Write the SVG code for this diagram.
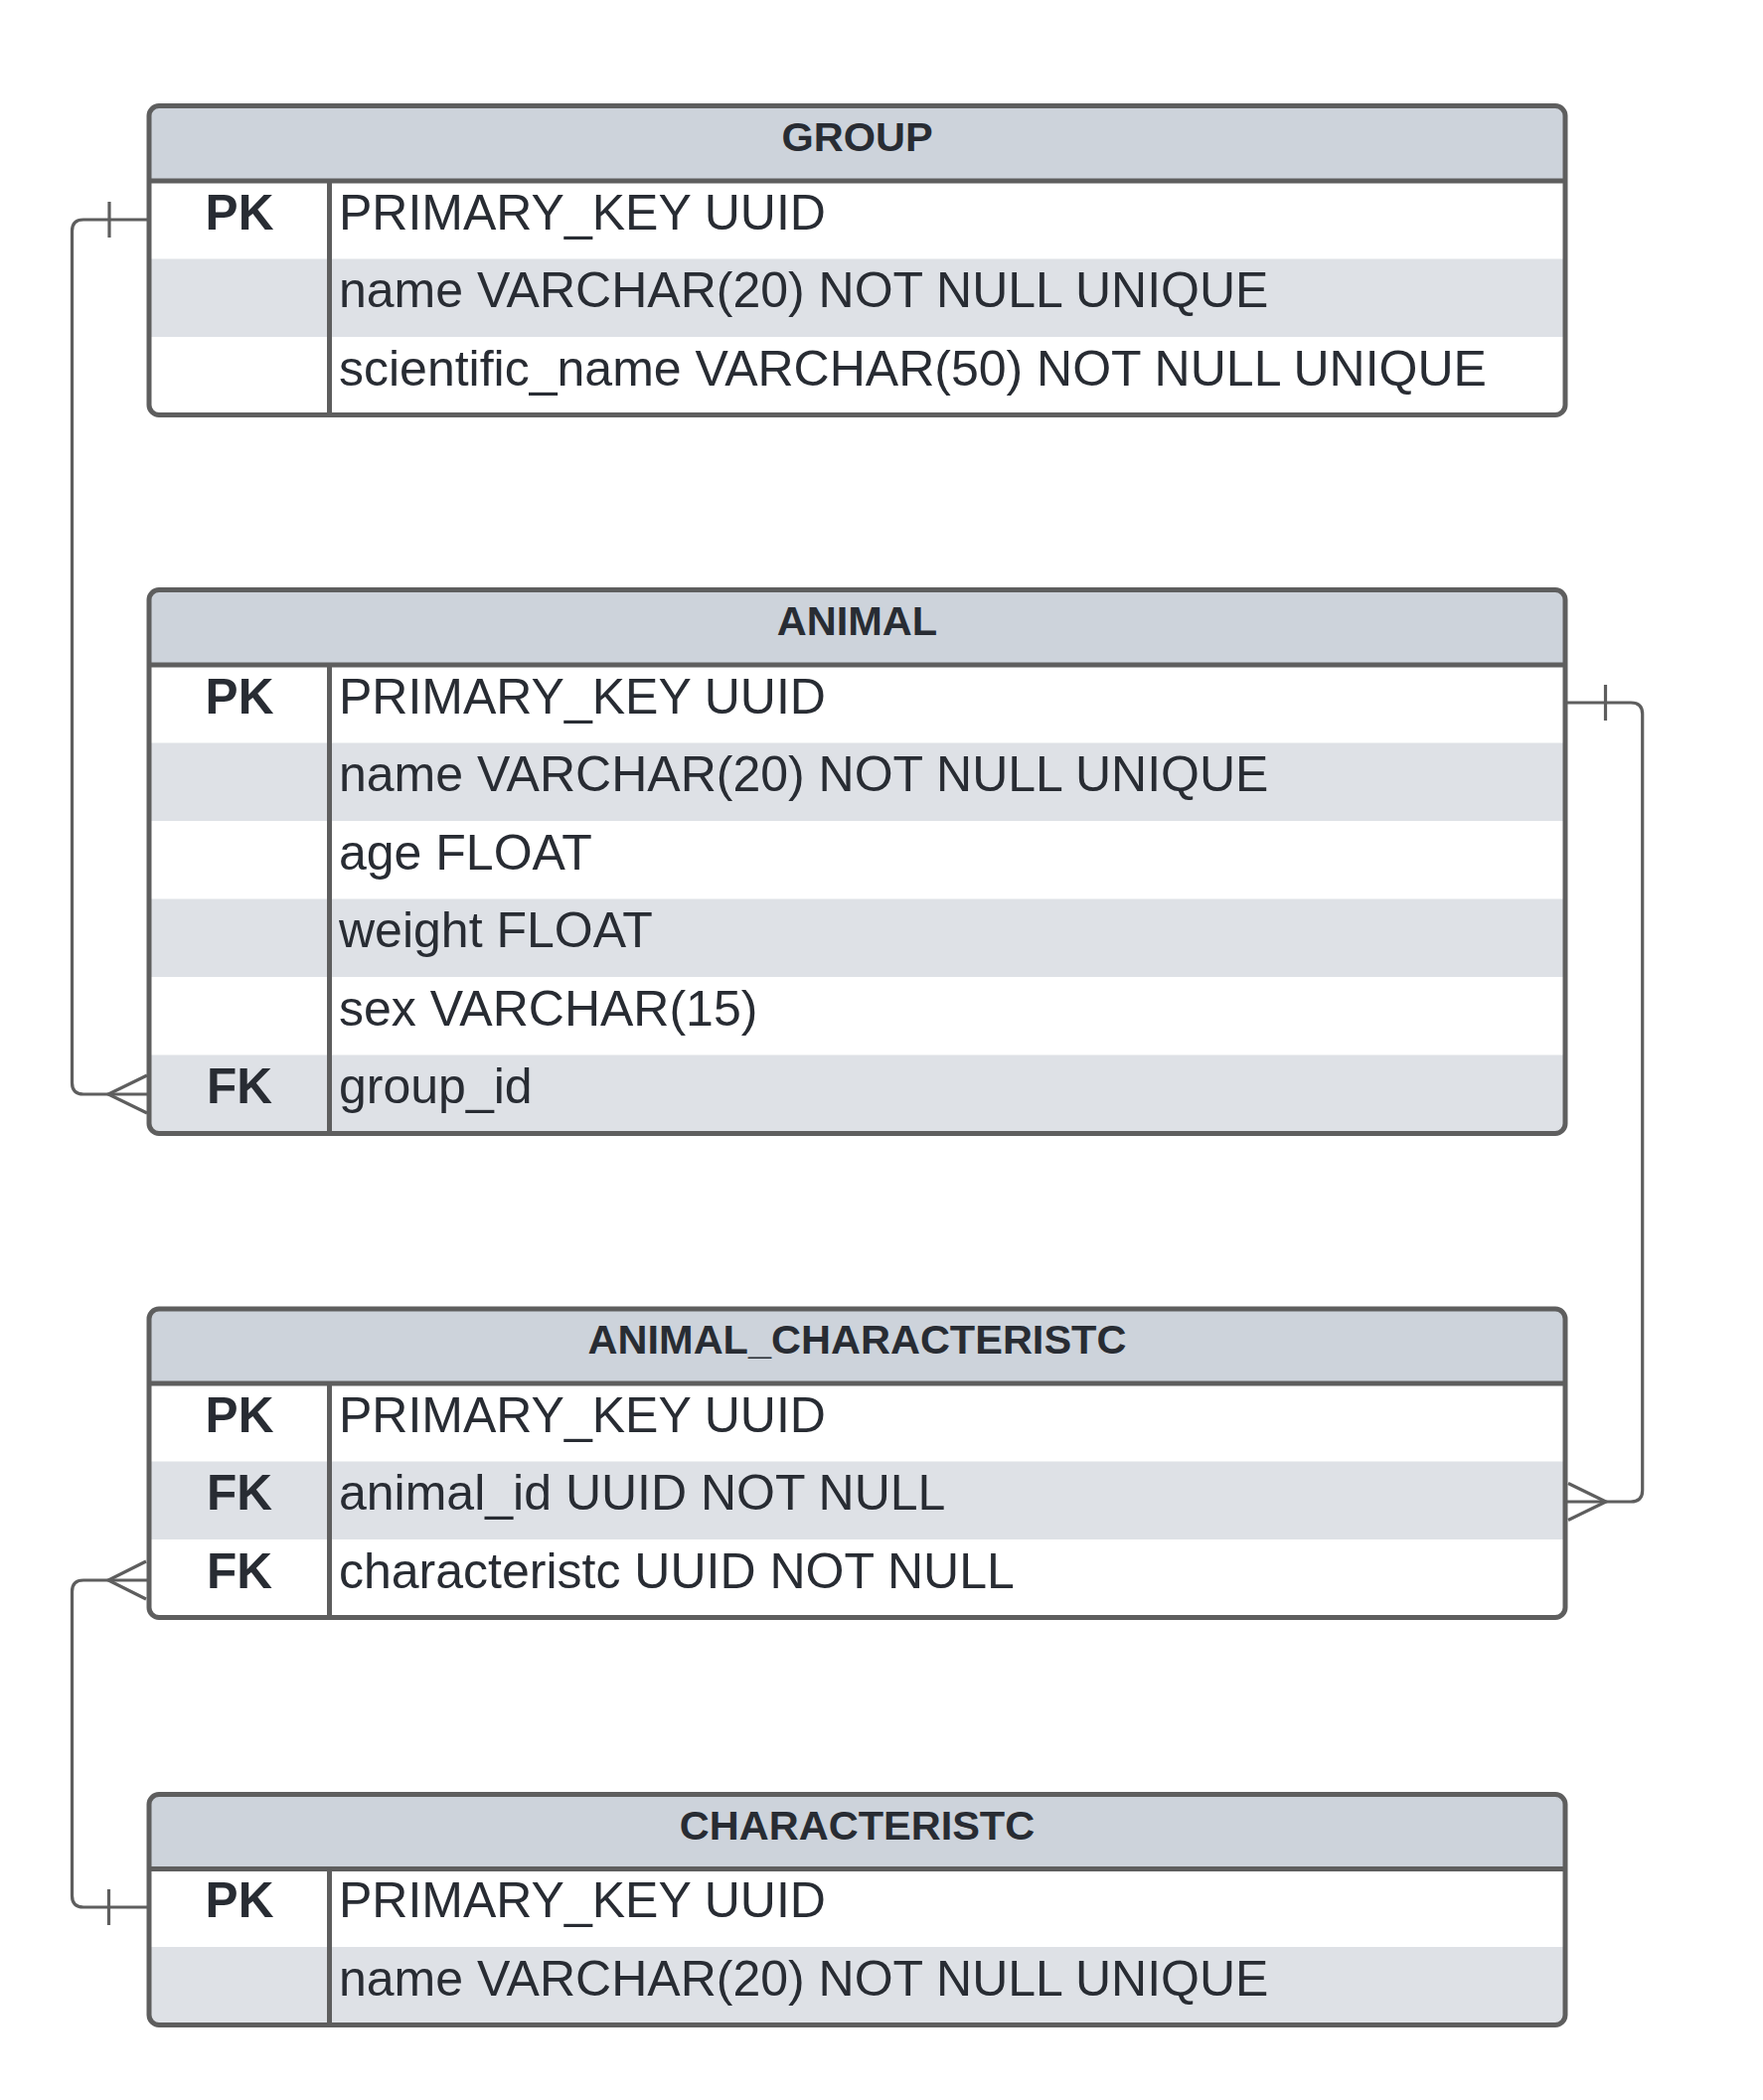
<svg xmlns="http://www.w3.org/2000/svg" width="1774" height="2113" viewBox="0 0 1774 2113">
<style>
.bg{fill:#ffffff}
.hdr{fill:#cdd3db}
.alt{fill:#dee1e6}
.border{fill:none;stroke:#5e5e5e;stroke-width:5}
.sep{stroke:#5e5e5e;stroke-width:5}
.conn{fill:none;stroke:#5e5e5e;stroke-width:3.2;stroke-linecap:butt}
.title{font-family:"Liberation Sans",Arial,sans-serif;font-weight:bold;font-size:41.5px;fill:#282c33;text-anchor:middle}
.key{font-family:"Liberation Sans",Arial,sans-serif;font-weight:bold;font-size:49.5px;fill:#282c33;text-anchor:middle}
.field{font-family:"Liberation Sans",Arial,sans-serif;font-size:50px;fill:#282c33}
</style>
<defs>
<clipPath id="clipGroup"><rect x="150" y="106.5" width="1425" height="311" rx="10"/></clipPath>
<clipPath id="clipAnimal"><rect x="150" y="593.5" width="1425" height="547" rx="10"/></clipPath>
<clipPath id="clipAC"><rect x="150" y="1317" width="1425" height="310.5" rx="10"/></clipPath>
<clipPath id="clipChar"><rect x="150" y="1805.5" width="1425" height="232" rx="10"/></clipPath>
</defs>

<g id="connectors">
<!-- GROUP.PK -> ANIMAL.group_id -->
<path class="conn" d="M148,221 H84 Q72.5,221 72.5,232.5 V1089.5 Q72.5,1101 84,1101 H148"/>
<line class="conn" x1="110" y1="203" x2="110" y2="239"/>
<path class="conn" d="M148,1082 L109,1101 L148,1120"/>
<!-- ANIMAL.PK -> ANIMAL_CHARACTERISTC.animal_id -->
<path class="conn" d="M1577,707 H1641 Q1652.7,707 1652.7,718.5 V1499.5 Q1652.7,1511 1641,1511 H1577"/>
<line class="conn" x1="1615.5" y1="689" x2="1615.5" y2="725"/>
<path class="conn" d="M1578,1492.5 L1616,1511 L1578,1529.5"/>
<!-- ANIMAL_CHARACTERISTC.characteristc -> CHARACTERISTC.PK -->
<path class="conn" d="M148,1590 H84 Q72.5,1590 72.5,1601.5 V1907.5 Q72.5,1919 84,1919 H148"/>
<path class="conn" d="M147,1571 L109,1590 L147,1609"/>
<line class="conn" x1="109.5" y1="1901" x2="109.5" y2="1937"/>
</g>

<g id="group">
<g clip-path="url(#clipGroup)">
<rect class="bg" x="150" y="106.5" width="1425" height="311"/>
<rect class="hdr" x="150" y="106.5" width="1425" height="75.5"/>
<rect class="alt" x="150" y="260.5" width="1425" height="78.5"/>
</g>
<rect class="border" x="150" y="106.5" width="1425" height="311" rx="10"/>
<line class="sep" x1="150" y1="182" x2="1575" y2="182"/>
<line class="sep" x1="331.5" y1="182" x2="331.5" y2="417.5"/>
<text class="title" x="862.5" y="151.5">GROUP</text>
<text class="key" x="241" y="230.5">PK</text>
<text class="field" x="341" y="230.5">PRIMARY_KEY UUID</text>
<text class="field" x="341" y="309">name VARCHAR(20) NOT NULL UNIQUE</text>
<text class="field" x="341" y="387.5">scientific_name VARCHAR(50) NOT NULL UNIQUE</text>
</g>

<g id="animal">
<g clip-path="url(#clipAnimal)">
<rect class="bg" x="150" y="593.5" width="1425" height="547"/>
<rect class="hdr" x="150" y="593.5" width="1425" height="75.5"/>
<rect class="alt" x="150" y="747.5" width="1425" height="78.5"/>
<rect class="alt" x="150" y="904.5" width="1425" height="78.5"/>
<rect class="alt" x="150" y="1061.5" width="1425" height="79"/>
</g>
<rect class="border" x="150" y="593.5" width="1425" height="547" rx="10"/>
<line class="sep" x1="150" y1="669" x2="1575" y2="669"/>
<line class="sep" x1="331.5" y1="669" x2="331.5" y2="1140.5"/>
<text class="title" x="862.5" y="638.5">ANIMAL</text>
<text class="key" x="241" y="717.5">PK</text>
<text class="field" x="341" y="717.5">PRIMARY_KEY UUID</text>
<text class="field" x="341" y="796">name VARCHAR(20) NOT NULL UNIQUE</text>
<text class="field" x="341" y="874.5">age FLOAT</text>
<text class="field" x="341" y="953">weight FLOAT</text>
<text class="field" x="341" y="1031.5">sex VARCHAR(15)</text>
<text class="key" x="241" y="1110">FK</text>
<text class="field" x="341" y="1110">group_id</text>
</g>

<g id="animal-characteristc">
<g clip-path="url(#clipAC)">
<rect class="bg" x="150" y="1317" width="1425" height="310.5"/>
<rect class="hdr" x="150" y="1317" width="1425" height="75"/>
<rect class="alt" x="150" y="1470.5" width="1425" height="78.5"/>
</g>
<rect class="border" x="150" y="1317" width="1425" height="310.5" rx="10"/>
<line class="sep" x1="150" y1="1392" x2="1575" y2="1392"/>
<line class="sep" x1="331.5" y1="1392" x2="331.5" y2="1627.5"/>
<text class="title" x="862.5" y="1362">ANIMAL_CHARACTERISTC</text>
<text class="key" x="241" y="1440.5">PK</text>
<text class="field" x="341" y="1440.5">PRIMARY_KEY UUID</text>
<text class="key" x="241" y="1519">FK</text>
<text class="field" x="341" y="1519">animal_id UUID NOT NULL</text>
<text class="key" x="241" y="1597.5">FK</text>
<text class="field" x="341" y="1597.5">characteristc UUID NOT NULL</text>
</g>

<g id="characteristc">
<g clip-path="url(#clipChar)">
<rect class="bg" x="150" y="1805.5" width="1425" height="232"/>
<rect class="hdr" x="150" y="1805.5" width="1425" height="75"/>
<rect class="alt" x="150" y="1959" width="1425" height="78.5"/>
</g>
<rect class="border" x="150" y="1805.5" width="1425" height="232" rx="10"/>
<line class="sep" x1="150" y1="1880.5" x2="1575" y2="1880.5"/>
<line class="sep" x1="331.5" y1="1880.5" x2="331.5" y2="2037.5"/>
<text class="title" x="862.5" y="1850.5">CHARACTERISTC</text>
<text class="key" x="241" y="1929">PK</text>
<text class="field" x="341" y="1929">PRIMARY_KEY UUID</text>
<text class="field" x="341" y="2007.5">name VARCHAR(20) NOT NULL UNIQUE</text>
</g>
</svg>
